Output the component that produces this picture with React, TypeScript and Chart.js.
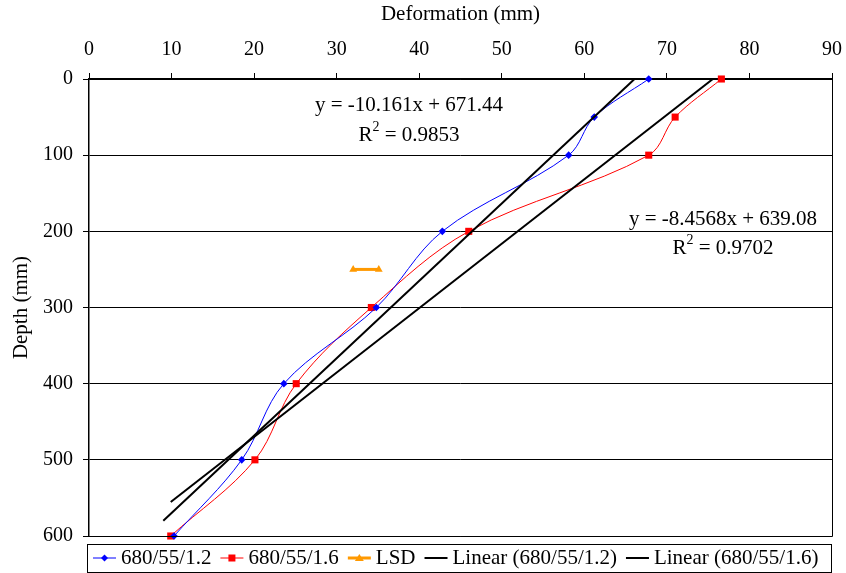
import React, { useEffect, useRef } from "react";
import { Chart, registerables } from "chart.js";

Chart.register(...registerables);

// Depth levels (mm) at which deformation was measured
const depthLevels = [0, 50, 100, 200, 300, 400, 500, 600];
// Deformation (mm) for each specimen
const deformation12 = [67.8, 61.2, 58.1, 42.8, 34.8, 23.6, 18.5, 10.3];
const deformation16 = [76.6, 71.0, 67.8, 46.0, 34.2, 25.1, 20.1, 9.9];
// Least significant difference bar
const lsdDeformation = [32.0, 35.1];
const lsdDepth = [250, 250];

// Linear fits: depth = slope * deformation + intercept
const fitSlope12 = -10.161;
const fitIntercept12 = 671.44;
const fitR2_12 = "0.9853";
const fitStart12 = 9.0;
const fitSlope16 = -8.4568;
const fitIntercept16 = 639.08;
const fitR2_16 = "0.9702";
const fitStart16 = 9.9;

const seriesLabels = [
  "680/55/1.2",
  "680/55/1.6",
  "LSD",
  "Linear (680/55/1.2)",
  "Linear (680/55/1.6)",
];

const FONT = "'Liberation Serif', 'Times New Roman', serif";
const BLUE = "#0000FF";
const RED = "#FF0000";
const ORANGE = "#FF9900";

const toPoints = (xs: number[], ys: number[]) => xs.map((x, i) => ({ x, y: ys[i] }));

const fitLine = (slope: number, intercept: number, startX: number) => [
  { x: startX, y: slope * startX + intercept },
  { x: -intercept / slope, y: 0 },
];

const fmt = (v: number) => String(v);

// Draws the plot frame, the boxed legend and the fit equations
const overlayPlugin = {
  id: "overlay",
  afterDraw(chart: any) {
    const { ctx, chartArea } = chart;
    ctx.save();

    // plot frame (right and bottom sides)
    ctx.strokeStyle = "#000";
    ctx.lineWidth = 1;
    ctx.beginPath();
    ctx.moveTo(chartArea.left, chartArea.bottom + 0.5);
    ctx.lineTo(chartArea.right + 0.5, chartArea.bottom + 0.5);
    ctx.lineTo(chartArea.right + 0.5, chartArea.top);
    ctx.stroke();

    // fit equations
    const eq = (line1: string, r2: string, cx: number, y1: number, y2: number) => {
      ctx.fillStyle = "#000";
      ctx.textBaseline = "middle";
      ctx.font = `21px ${FONT}`;
      ctx.textAlign = "center";
      ctx.fillText(line1, cx, y1);
      const rest = " = " + r2;
      const wR = ctx.measureText("R").width;
      const wRest = ctx.measureText(rest).width;
      ctx.font = `14px ${FONT}`;
      const wSup = ctx.measureText("2").width;
      const total = wR + wSup + wRest;
      let x = cx - total / 2;
      ctx.textAlign = "left";
      ctx.font = `21px ${FONT}`;
      ctx.fillText("R", x, y2);
      x += wR;
      ctx.font = `14px ${FONT}`;
      ctx.fillText("2", x, y2 - 8);
      x += wSup;
      ctx.font = `21px ${FONT}`;
      ctx.fillText(rest, x, y2);
    };
    eq(`y = ${fmt(fitSlope12)}x + ${fmt(fitIntercept12)}`, fitR2_12, 409, 105.5, 135);
    eq(`y = ${fmt(fitSlope16)}x + ${fmt(fitIntercept16)}`, fitR2_16, 723, 219.5, 248);

    // legend
    const boxL = 87, boxR = 832, boxT = 544, boxB = 572;
    ctx.strokeStyle = "#000";
    ctx.lineWidth = 1;
    ctx.strokeRect(boxL + 0.5, boxT + 0.5, boxR - boxL - 1, boxB - boxT);
    const cy = 558;
    const styles = [
      { color: BLUE, width: 1, marker: "diamond" },
      { color: RED, width: 1, marker: "square" },
      { color: ORANGE, width: 3, marker: "triangle" },
      { color: "#000", width: 2, marker: "none" },
      { color: "#000", width: 2, marker: "none" },
    ];
    let x = 93;
    seriesLabels.forEach((label, i) => {
      const s = styles[i];
      ctx.strokeStyle = s.color;
      ctx.fillStyle = s.color;
      ctx.lineWidth = s.width;
      ctx.beginPath();
      ctx.moveTo(x, cy);
      ctx.lineTo(x + 23, cy);
      ctx.stroke();
      const mx = x + 11.5;
      if (s.marker === "diamond") {
        ctx.beginPath();
        ctx.moveTo(mx, cy - 3.5);
        ctx.lineTo(mx + 3.5, cy);
        ctx.lineTo(mx, cy + 3.5);
        ctx.lineTo(mx - 3.5, cy);
        ctx.closePath();
        ctx.fill();
      } else if (s.marker === "square") {
        ctx.fillRect(mx - 3.5, cy - 3.5, 7, 7);
      } else if (s.marker === "triangle") {
        ctx.beginPath();
        ctx.moveTo(mx, cy - 4);
        ctx.lineTo(mx + 4.5, cy + 3);
        ctx.lineTo(mx - 4.5, cy + 3);
        ctx.closePath();
        ctx.fill();
      }
      ctx.fillStyle = "#000";
      ctx.textAlign = "left";
      ctx.textBaseline = "middle";
      ctx.font = `21px ${FONT}`;
      ctx.fillText(label, x + 28, cy);
      x += 28 + ctx.measureText(label).width + 9;
    });

    ctx.restore();
  },
};

export default function App() {
  const canvasRef = useRef<HTMLCanvasElement | null>(null);

  useEffect(() => {
    if (!canvasRef.current) return;
    Chart.defaults.font.family = FONT;
    Chart.defaults.color = "#000";

    const chart = new Chart(canvasRef.current, {
      type: "scatter",
      data: {
        datasets: [
          {
            label: seriesLabels[3],
            data: fitLine(fitSlope12, fitIntercept12, fitStart12),
            showLine: true,
            borderColor: "#000",
            borderWidth: 2,
            pointRadius: 0,
            tension: 0,
            order: 0,
          },
          {
            label: seriesLabels[4],
            data: fitLine(fitSlope16, fitIntercept16, fitStart16),
            showLine: true,
            borderColor: "#000",
            borderWidth: 2,
            pointRadius: 0,
            tension: 0,
            order: 0,
          },
          {
            label: seriesLabels[0],
            data: toPoints(deformation12, depthLevels),
            showLine: true,
            borderColor: BLUE,
            backgroundColor: BLUE,
            borderWidth: 1,
            pointStyle: "rectRot",
            pointRadius: 3.8,
            pointBorderWidth: 0,
            tension: 0.35,
            clip: 8,
            order: 1,
          },
          {
            label: seriesLabels[1],
            data: toPoints(deformation16, depthLevels),
            showLine: true,
            borderColor: RED,
            backgroundColor: RED,
            borderWidth: 1,
            pointStyle: "rect",
            pointRadius: 5,
            pointBorderWidth: 0,
            tension: 0.35,
            clip: 8,
            order: 1,
          },
          {
            label: seriesLabels[2],
            data: toPoints(lsdDeformation, lsdDepth),
            showLine: true,
            borderColor: ORANGE,
            backgroundColor: ORANGE,
            borderWidth: 3,
            pointStyle: "triangle",
            pointRadius: 4.5,
            pointBorderWidth: 0,
            tension: 0,
            order: 1,
          },
        ],
      },
      options: {
        animation: false,
        responsive: false,
        devicePixelRatio: 1,
        layout: { padding: { left: 0, top: 0, right: 14, bottom: 37 } },
        plugins: {
          legend: { display: false },
          tooltip: { enabled: false },
        },
        scales: {
          x: {
            type: "linear",
            position: "top",
            min: 0,
            max: 90,
            ticks: { stepSize: 10, padding: 11, color: "#000", font: { size: 20, family: FONT } },
            grid: { drawOnChartArea: false, drawTicks: true, tickLength: 6, color: "#000", lineWidth: 1 },
            border: { display: true, color: "#000", width: 1.8 },
            title: {
              display: true,
              text: "Deformation (mm)",
              color: "#000",
              font: { size: 21, family: FONT },
              padding: { top: 2, bottom: 0 },
            },
            afterFit(scale: any) {
              scale.height = 79;
              scale.paddingLeft = 0;
              scale.paddingRight = 0;
            },
          },
          y: {
            type: "linear",
            reverse: true,
            min: 0,
            max: 600,
            ticks: { stepSize: 100, padding: 10, color: "#000", font: { size: 20, family: FONT } },
            grid: { color: "#000", lineWidth: 1, tickLength: 6 },
            border: { display: true, color: "#000", width: 1.5 },
            title: {
              display: true,
              text: "Depth (mm)",
              color: "#000",
              font: { size: 21, family: FONT },
              padding: { top: 9, bottom: 0 },
            },
            afterFit(scale: any) {
              scale.width = 89;
              scale.paddingTop = 0;
              scale.paddingBottom = 0;
            },
          },
        },
      },
      plugins: [overlayPlugin],
    } as any);

    return () => chart.destroy();
  }, []);

  return (
    <div style={{ position: "fixed", left: 0, top: 0, width: 846, height: 573, background: "#fff" }}>
      <canvas ref={canvasRef} width={846} height={573} style={{ display: "block", width: 846, height: 573 }} />
    </div>
  );
}
